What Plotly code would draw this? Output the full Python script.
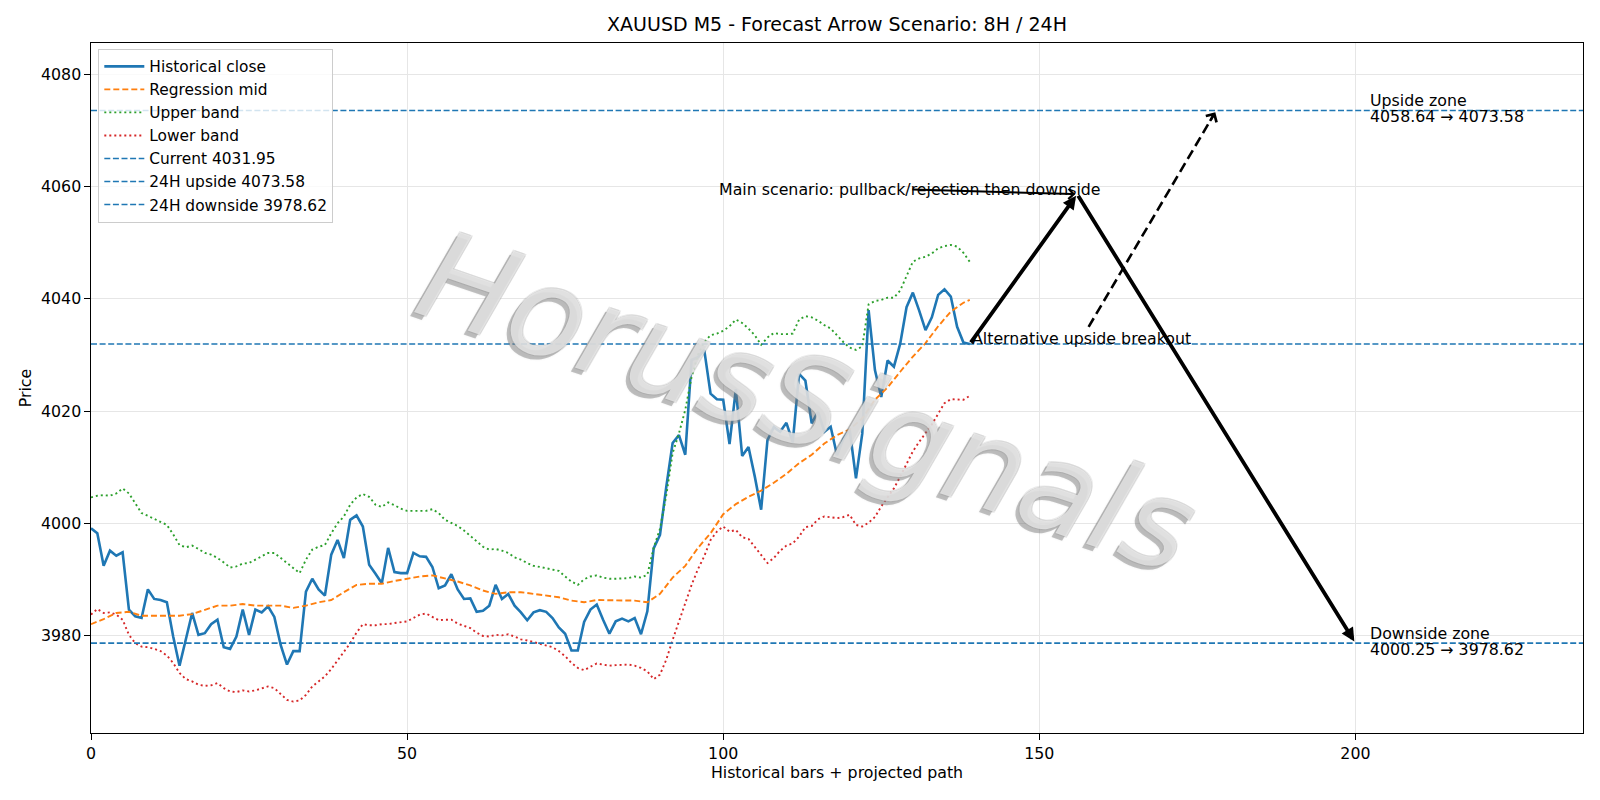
import plotly.graph_objects as go

# ---------------- data ----------------
TITLE = "XAUUSD M5 - Forecast Arrow Scenario: 8H / 24H"

close = [
    3999.1, 3998.2, 3992.4, 3995.1, 3994.2, 3994.8, 3984.6, 3983.4, 3983.1, 3988.2,
    3986.5, 3986.3, 3985.9, 3979.8, 3974.6, 3979.2, 3984.0, 3980.1, 3980.4, 3982.0,
    3982.8, 3977.9, 3977.6, 3979.8, 3984.6, 3980.1, 3984.6, 3984.1, 3985.2, 3983.3,
    3978.3, 3974.8, 3977.2, 3977.2, 3987.8, 3990.1, 3988.2, 3987.1, 3994.4, 3997.0,
    3993.8, 4000.6, 4001.4, 3999.4, 3992.6, 3991.0, 3989.3, 3995.6, 3991.3, 3991.1,
    3991.1, 3994.7, 3994.1, 3994.0, 3992.2, 3988.4, 3988.9, 3990.9, 3988.2, 3986.5,
    3986.6, 3984.2, 3984.4, 3985.3, 3989.0, 3986.5, 3987.4, 3985.3, 3984.1, 3982.7,
    3984.1, 3984.5, 3984.2, 3983.1, 3981.4, 3980.3, 3977.3, 3977.3, 3982.4, 3984.6,
    3985.5, 3982.8, 3980.3, 3982.5, 3983.0, 3982.5, 3983.1, 3980.2, 3984.3, 3995.5,
    3997.9, 4006.5, 4014.3, 4015.7, 4012.2, 4029.1, 4029.6, 4030.9, 4023.1, 4022.1,
    4022.0, 4014.1, 4023.9, 4012.0, 4013.6, 4008.3, 4002.4, 4014.8, 4017.1, 4016.3,
    4017.9, 4014.4, 4026.6, 4025.4, 4017.8, 4019.9, 4016.3, 4017.2, 4012.1, 4015.0,
    4016.7, 4008.0, 4016.0, 4038.0, 4027.3, 4022.5, 4029.0, 4027.9, 4032.0, 4038.5,
    4041.1, 4037.9, 4034.4, 4036.7, 4040.7, 4041.7, 4040.4, 4035.0, 4032.2, 4031.95,
]

mid_x = [0, 2, 4, 6, 8, 10, 12, 14, 16, 18, 20, 22, 24, 26, 28, 30, 32, 34, 36, 38,
         40, 42, 44, 46, 48, 50, 52, 54, 56, 58, 60, 62, 64, 66, 68, 70, 72, 74, 76, 78,
         80, 82, 84, 86, 88, 90, 92, 94, 96, 98, 100, 102, 104, 106, 108, 110, 112, 114,
         116, 118, 120, 122, 124, 126, 128, 130, 132, 134, 136, 138, 139]
mid = [3982.0, 3982.9, 3984.0, 3984.2, 3983.5, 3983.5, 3983.6, 3983.5, 3983.8, 3984.5,
       3985.3, 3985.3, 3985.6, 3985.3, 3985.3, 3985.3, 3984.9, 3985.3, 3985.9, 3986.3,
       3987.7, 3989.0, 3989.2, 3989.2, 3989.7, 3990.1, 3990.5, 3990.7, 3990.2, 3989.6,
       3988.9, 3988.0, 3987.4, 3987.7, 3987.7, 3987.4, 3987.2, 3986.8, 3986.2, 3985.9,
       3986.3, 3986.3, 3986.3, 3986.2, 3985.9, 3987.4, 3990.3, 3992.4, 3995.6, 3998.2,
       4001.6, 4003.4, 4004.7, 4005.8, 4007.2, 4008.8, 4010.7, 4012.2, 4014.2, 4015.7,
       4016.7, 4018.7, 4022.0, 4024.2, 4027.0, 4029.7, 4032.1, 4035.1, 4037.7, 4039.3,
       4039.8]

upper = [
    4004.6, 4004.9, 4005.0, 4004.9, 4005.3, 4006.2, 4005.3, 4003.6, 4001.8, 4001.3,
    4000.8, 4000.3, 3999.7, 3998.0, 3996.1, 3995.7, 3996.0, 3995.4, 3994.7, 3994.4,
    3993.8, 3993.0, 3992.1, 3992.3, 3992.8, 3992.9, 3993.5, 3994.1, 3994.7, 3994.7,
    3993.8, 3992.8, 3992.0, 3991.1, 3993.5, 3995.3, 3995.8, 3996.1, 3998.2, 4000.0,
    4001.2, 4003.3, 4004.6, 4005.2, 4004.7, 4003.3, 4002.9, 4003.7, 4003.2, 4002.6,
    4002.2, 4002.2, 4002.1, 4002.2, 4002.5, 4001.8, 4000.6, 4000.1, 3999.5, 3998.7,
    3997.7, 3996.7, 3995.8, 3995.3, 3995.4, 3995.1, 3994.7, 3993.9, 3993.5, 3992.9,
    3992.4, 3992.2, 3992.0, 3991.7, 3991.5, 3990.5, 3989.6, 3989.0, 3990.0, 3990.5,
    3990.7, 3990.3, 3990.1, 3990.1, 3990.2, 3990.2, 3990.5, 3990.3, 3990.8, 3995.6,
    3999.0, 4005.0, 4012.5, 4016.0, 4020.2, 4026.1, 4030.0, 4032.3, 4033.5, 4033.8,
    4034.3, 4035.1, 4036.3, 4035.7, 4034.7, 4033.5, 4031.8, 4033.1, 4033.9, 4033.7,
    4033.7, 4033.8, 4036.3, 4036.9, 4036.7, 4036.1, 4035.3, 4034.7, 4033.5, 4032.3,
    4031.3, 4030.9, 4031.5, 4039.0, 4039.6, 4039.8, 4040.2, 4040.2, 4041.5, 4044.2,
    4046.6, 4047.2, 4047.5, 4048.1, 4049.0, 4049.4, 4049.6, 4049.3, 4048.2, 4046.6,
]

lower = [
    3983.7, 3984.7, 3984.0, 3984.1, 3983.7, 3982.8, 3980.1, 3978.6, 3978.0, 3977.9,
    3977.6, 3977.2, 3976.4, 3975.1, 3973.3, 3972.2, 3971.8, 3971.2, 3971.0, 3971.1,
    3971.5, 3970.6, 3970.0, 3969.9, 3970.2, 3970.0, 3970.2, 3970.6, 3970.9, 3970.6,
    3969.6, 3968.5, 3968.2, 3968.4, 3969.4, 3970.9, 3971.8, 3972.7, 3974.0, 3975.5,
    3976.9, 3978.6, 3980.5, 3982.0, 3981.8, 3981.8, 3982.0, 3982.0, 3982.2, 3982.3,
    3982.5, 3983.1, 3983.7, 3983.9, 3983.3, 3982.7, 3982.8, 3982.8, 3982.1, 3981.7,
    3981.3, 3980.5, 3979.9, 3979.8, 3980.1, 3980.0, 3980.2, 3979.8, 3979.3, 3979.1,
    3978.8, 3978.6, 3978.2, 3977.9, 3977.2, 3976.3, 3975.1, 3974.2, 3973.8, 3974.4,
    3975.0, 3974.8, 3974.6, 3974.7, 3974.8, 3974.8, 3974.6, 3974.2, 3973.6, 3972.2,
    3973.0, 3975.7, 3979.2, 3982.5, 3985.8, 3989.0, 3991.8, 3994.1, 3997.0, 3998.5,
    3999.4, 3998.5, 3998.8, 3997.5, 3997.2, 3995.8, 3994.4, 3992.9, 3993.8, 3995.1,
    3996.0, 3996.4, 3997.6, 3999.3, 3999.5, 4000.7, 4001.2, 4001.1, 4000.9, 4001.1,
    4001.5, 3999.7, 3999.4, 4000.1, 4001.1, 4003.0, 4004.7, 4006.2, 4008.3, 4010.6,
    4012.8, 4014.5, 4016.0, 4017.6, 4019.5, 4021.4, 4022.1, 4022.1, 4022.0, 4022.7,
]

CURRENT = 4031.95
UP_24H = 4073.58
DOWN_24H = 3978.62
UP_ZONE = [4058.64, 4073.58]
DOWN_ZONE = [4000.25, 3978.62]

# projected path: current -> pullback peak -> downside target; alternative -> upside
MAIN_PATH_X = [139, 156, 200]
MAIN_PATH_Y = [CURRENT, 4058.64, DOWN_24H]
ALT_PATH_X = [157.8, 178]
ALT_PATH_Y = [4035.0, UP_24H]
MAIN_LABEL_X = 99
MAIN_LABEL_ARROW_TAIL = [129.7, 4059.5]
ZONE_LABEL_X = 202

X_TICKS = [0, 50, 100, 150, 200]
Y_TICKS = [3980, 4000, 4020, 4040, 4060, 4080]
X_RANGE = [0, 236]
Y_RANGE = [3962.6, 4085.6]

# ---------------- styling ----------------
FONT = "DejaVu Sans"
FS = 15.8
BLUE, ORANGE, GREEN, RED = "#1f77b4", "#ff7f0e", "#2ca02c", "#d62728"
W, H = 1600, 800
ML, MR, MT, MB = 91, 17, 43, 67
PW, PH = W - ML - MR, H - MT - MB
PX_X = PW / (X_RANGE[1] - X_RANGE[0])
PX_Y = PH / (Y_RANGE[1] - Y_RANGE[0])

n = len(close)
xs = list(range(n))

fig = go.Figure()
fig.add_trace(go.Scatter(x=xs, y=close, mode="lines", name="Historical close",
                         line=dict(color=BLUE, width=2.6)))
fig.add_trace(go.Scatter(x=mid_x, y=mid, mode="lines", name="Regression mid",
                         line=dict(color=ORANGE, width=1.9, dash="6px,3px")))
fig.add_trace(go.Scatter(x=xs, y=upper, mode="lines", name="Upper band",
                         line=dict(color=GREEN, width=1.9, dash="2px,3px")))
fig.add_trace(go.Scatter(x=xs, y=lower, mode="lines", name="Lower band",
                         line=dict(color=RED, width=1.9, dash="2px,3px")))
for lvl, nm in [(CURRENT, f"Current {CURRENT:.2f}"),
                (UP_24H, f"24H upside {UP_24H:.2f}"),
                (DOWN_24H, f"24H downside {DOWN_24H:.2f}")]:
    fig.add_trace(go.Scatter(x=X_RANGE, y=[lvl, lvl], mode="lines", name=nm,
                             line=dict(color=BLUE, width=1.6, dash="6px,2.6px")))

ann = []
# watermark: shadow, outline, then translucent white fill
WM = dict(text="HorusSignals", xref="paper", yref="paper", x=0.48, y=0.48,
          xanchor="center", yanchor="middle", showarrow=False, textangle=19)
ann.append(dict(WM, xshift=-4, yshift=-4,
                font=dict(family=FONT, size=124, style="italic",
                          color="rgba(120,120,120,0.42)",
                          shadow="0 0 2px rgba(120,120,120,0.35)")))
ann.append(dict(WM,
                font=dict(family=FONT, size=124, style="italic",
                          color="rgba(150,150,150,0.45)",
                          shadow="1px 1px 0 rgba(150,150,150,0.45), -1px -1px 0 rgba(150,150,150,0.45), 1px -1px 0 rgba(150,150,150,0.45), -1px 1px 0 rgba(150,150,150,0.45)")))
ann.append(dict(WM,
                font=dict(family=FONT, size=124, style="italic",
                          color="rgba(255,255,255,0.62)", shadow="none")))

# main scenario arrows (solid)
for i in range(len(MAIN_PATH_X) - 1):
    ann.append(dict(text="", x=MAIN_PATH_X[i + 1], y=MAIN_PATH_Y[i + 1],
                    ax=MAIN_PATH_X[i], ay=MAIN_PATH_Y[i], xref="x", yref="y",
                    axref="x", ayref="y", showarrow=True, arrowhead=2,
                    arrowwidth=3.8, arrowsize=0.7, arrowcolor="black", standoff=2))
# thin label arrow
ann.append(dict(text="", x=MAIN_PATH_X[1], y=MAIN_PATH_Y[1],
                ax=MAIN_LABEL_ARROW_TAIL[0], ay=MAIN_LABEL_ARROW_TAIL[1],
                xref="x", yref="y", axref="x", ayref="y", showarrow=True,
                arrowhead=4, arrowwidth=2.0, arrowsize=1.0, arrowcolor="black", standoff=2))
# alternative arrow head (dashed body drawn as shape)
dxp = (ALT_PATH_X[1] - ALT_PATH_X[0]) * PX_X
dyp = (ALT_PATH_Y[1] - ALT_PATH_Y[0]) * PX_Y
L = (dxp ** 2 + dyp ** 2) ** 0.5
ann.append(dict(text="", x=ALT_PATH_X[1], y=ALT_PATH_Y[1], xref="x", yref="y",
                ax=-dxp / L * 14, ay=dyp / L * 14, showarrow=True, arrowhead=4,
                arrowwidth=2.4, arrowsize=1.0, arrowcolor="black", standoff=2))

txt_font = dict(family=FONT, size=FS, color="black")
ann.append(dict(text="Main scenario: pullback/rejection then downside", x=MAIN_LABEL_X,
                y=MAIN_PATH_Y[1], xref="x", yref="y", xanchor="left", yanchor="middle",
                yshift=5, showarrow=False, font=txt_font))
ann.append(dict(text="Alternative upside breakout", x=MAIN_PATH_X[0], y=CURRENT,
                xref="x", yref="y", xanchor="left", yanchor="middle", yshift=5,
                showarrow=False, font=txt_font))
for lvl, title, zone in [(UP_24H, "Upside zone", UP_ZONE),
                         (DOWN_24H, "Downside zone", DOWN_ZONE)]:
    ann.append(dict(text=title, x=ZONE_LABEL_X, y=lvl, xref="x", yref="y",
                    xanchor="left", yanchor="middle", yshift=10, showarrow=False,
                    font=txt_font))
    ann.append(dict(text=f"{zone[0]:.2f} \u2192 {zone[1]:.2f}", x=ZONE_LABEL_X, y=lvl,
                    xref="x", yref="y", xanchor="left", yanchor="middle", yshift=-6,
                    showarrow=False, font=txt_font))

shapes = [dict(type="line", xref="x", yref="y", x0=ALT_PATH_X[0], y0=ALT_PATH_Y[0],
               x1=ALT_PATH_X[1] - (dxp / L * 6) / PX_X,
               y1=ALT_PATH_Y[1] - (dyp / L * 6) / PX_Y,
               line=dict(color="black", width=2.6, dash="10px,5px"), layer="above")]

axis_common = dict(showline=True, mirror=True, linecolor="black", linewidth=1.3,
                   ticks="outside", ticklen=5.5, tickwidth=1.3, tickcolor="black",
                   showgrid=True, gridcolor="#e6e6e6", gridwidth=1.3, zeroline=False,
                   tickfont=dict(family=FONT, size=FS, color="black"))

fig.update_layout(
    width=W, height=H,
    margin=dict(l=ML, r=MR, t=MT, b=MB, pad=0),
    paper_bgcolor="white", plot_bgcolor="white",
    title=dict(text=TITLE, x=0.5, xref="paper", xanchor="center", y=1 - 24.5 / H,
               yref="container", yanchor="middle",
               font=dict(family=FONT, size=19, color="black")),
    xaxis=dict(range=X_RANGE, tickvals=X_TICKS, ticktext=[str(v) for v in X_TICKS],
               title=dict(text="Historical bars + projected path", standoff=4,
                          font=dict(family=FONT, size=FS, color="black")),
               **axis_common),
    yaxis=dict(range=Y_RANGE, tickvals=Y_TICKS, ticktext=[str(v) for v in Y_TICKS],
               title=dict(text="Price", standoff=5,
                          font=dict(family=FONT, size=FS, color="black")),
               **axis_common),
    legend=dict(x=0.0049, y=0.9915, xanchor="left", yanchor="top",
                bgcolor="rgba(255,255,255,0.8)", bordercolor="#cccccc", borderwidth=1,
                font=dict(family=FONT, size=15.4, color="black"), tracegroupgap=0,
                itemwidth=40),
    annotations=ann,
    shapes=shapes,
    font=dict(family=FONT),
)

fig.write_html("out.html")
